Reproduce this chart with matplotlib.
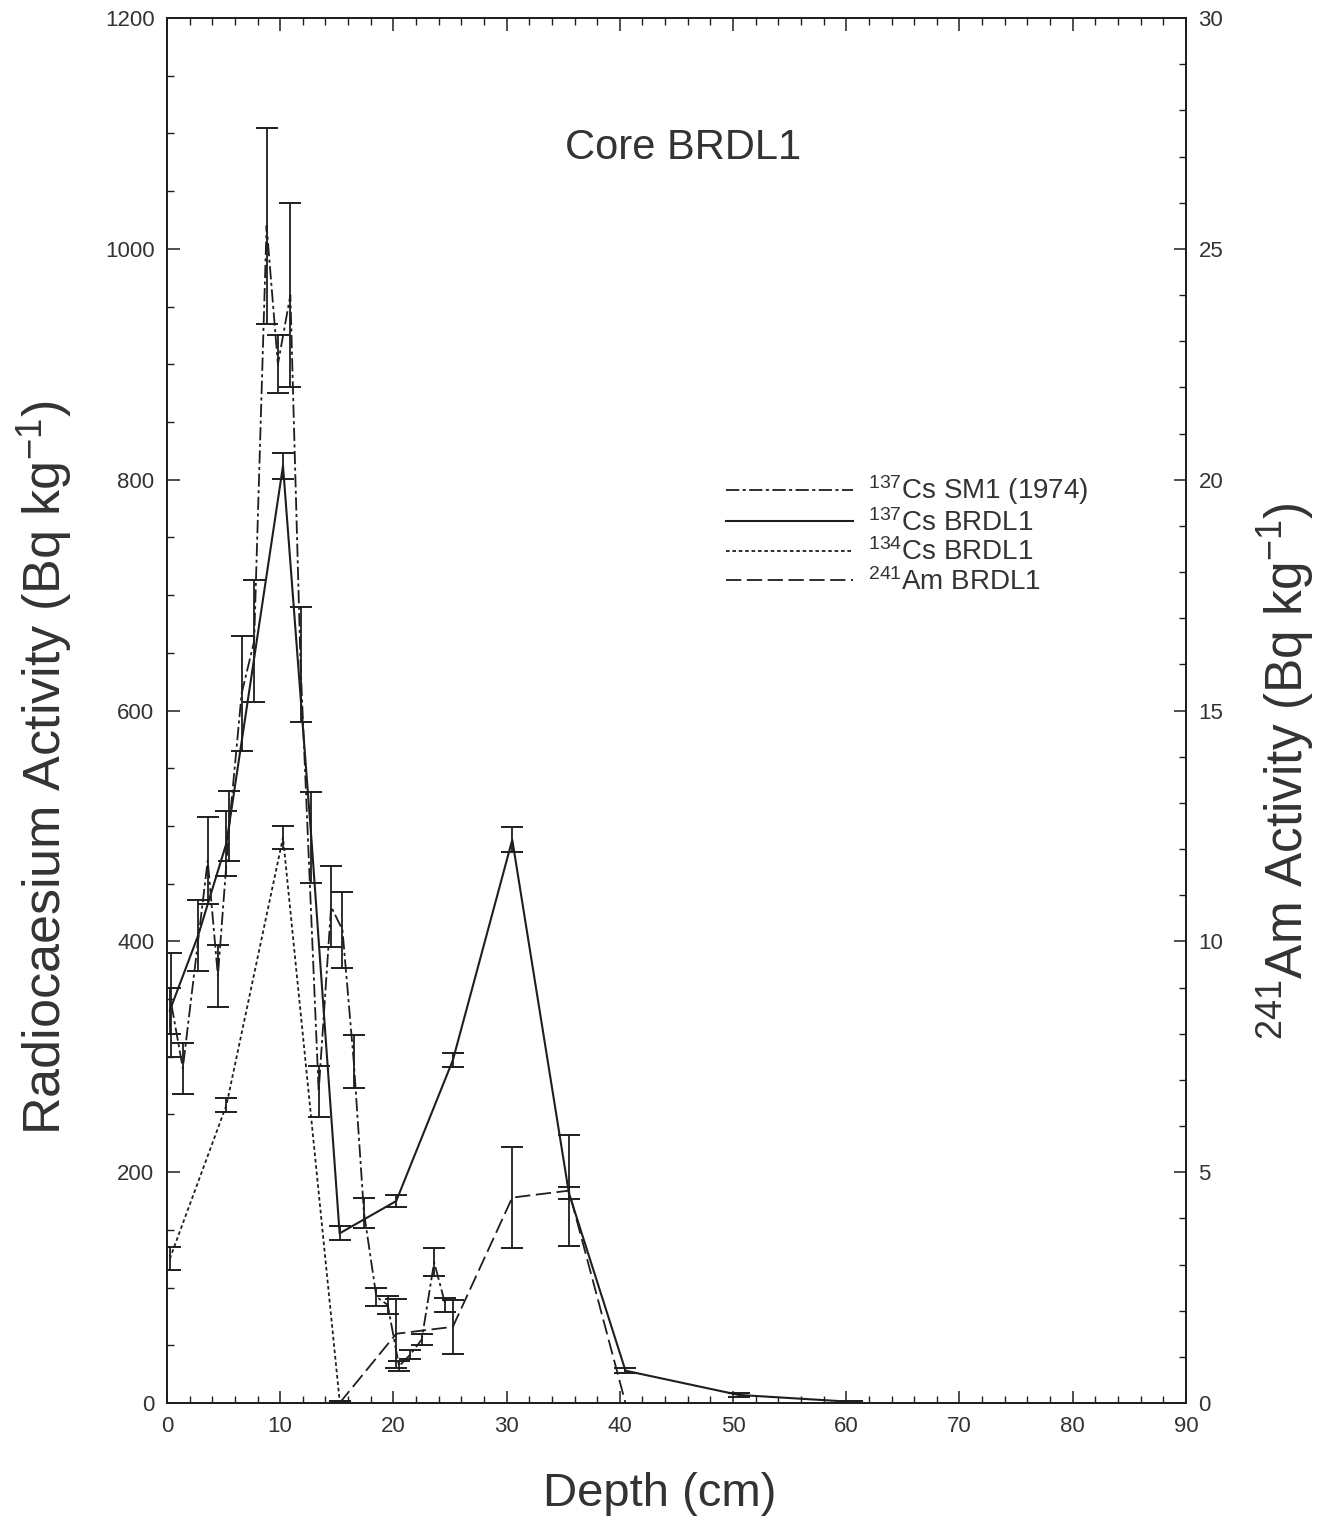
import matplotlib
matplotlib.use("Agg")
import matplotlib.pyplot as plt
from matplotlib.lines import Line2D
from matplotlib.ticker import MultipleLocator

# ---- data -------------------------------------------------------------
# 137Cs in core SM1 (1974), Bq/kg
sm1_depth = [0.4, 1.4, 3.6, 4.5, 5.5, 6.6, 7.7, 8.8, 9.8, 10.9, 11.8, 13.4,
             14.5, 15.5, 16.5, 17.4, 18.5, 19.5, 20.5, 21.5, 22.5, 23.6, 24.6]
sm1_cs137 = [345, 290, 470, 370, 500, 615, 660, 1020, 900, 960, 640, 270,
             430, 410, 296, 165, 92, 85, 32, 42, 55, 122, 85]
sm1_err = [45, 22, 38, 27, 30, 50, 53, 85, 25, 80, 50, 22,
           35, 33, 23, 13, 8, 8, 4, 4, 5, 12, 6]

# 137Cs in core BRDL1, Bq/kg
brdl1_depth = [0.25, 2.75, 5.25, 10.25, 12.75, 15.25, 20.25, 25.25, 30.5,
               35.5, 40.5, 50.5, 60.5]
brdl1_cs137 = [340, 405, 485, 812, 490, 147, 175, 297, 488, 182, 28, 7, 1]
brdl1_cs137_err = [20, 31, 28, 11, 39, 6, 5, 6, 11, 5, 2, 1.5, 0.5]

# 134Cs in core BRDL1, Bq/kg
cs134_depth = [0.25, 5.25, 10.25, 15.25]
cs134 = [125, 258, 490, 2]
cs134_err = [10, 6, 10, 0]

# 241Am in core BRDL1, Bq/kg (right axis)
am_depth = [15.25, 20.25, 25.25, 30.5, 35.5, 40.5]
am241 = [0.0, 1.5, 1.65, 4.45, 4.6, 0.0]
am241_err = [0, 0.75, 0.58, 1.1, 1.2, 0]

legend_labels = [r"$^{137}$Cs SM1 (1974)", r"$^{137}$Cs BRDL1",
                 r"$^{134}$Cs BRDL1", r"$^{241}$Am BRDL1"]

# ---- style ------------------------------------------------------------
plt.rcParams["font.family"] = ["Liberation Sans", "DejaVu Sans"]
plt.rcParams["mathtext.default"] = "regular"
plt.rcParams["lines.scale_dashes"] = False

ink = "#1e1e1e"
txt = "#333333"
lw = 1.3
dashdot = (0, (9.5, 2.5, 2.2, 2.5))
shortdash = (0, (2.6, 2.0))
longdash = (0, (11, 4))
ebkw = dict(ecolor=ink, elinewidth=1.3, capsize=8, capthick=1.4)

fig = plt.figure(figsize=(13.24, 15.32), dpi=100)
ax = fig.add_axes([0.1261, 0.0842, 0.7696, 0.904])
ax2 = ax.twinx()

ax.errorbar(sm1_depth, sm1_cs137, yerr=sm1_err, color=ink, lw=lw,
            linestyle=dashdot, **ebkw)
ax.errorbar(brdl1_depth, brdl1_cs137, yerr=brdl1_cs137_err, color=ink,
            lw=1.5, linestyle="-", **ebkw)
ax.errorbar(cs134_depth, cs134, yerr=cs134_err, color=ink, lw=lw,
            linestyle=shortdash, **ebkw)
ax2.errorbar(am_depth, am241, yerr=am241_err, color=ink, lw=lw,
             linestyle=longdash, **ebkw)

ax.set_xlim(0, 90)
ax.set_ylim(0, 1200)
ax2.set_ylim(0, 30)

ax.xaxis.set_major_locator(MultipleLocator(10))
ax.xaxis.set_minor_locator(MultipleLocator(2))
ax.yaxis.set_major_locator(MultipleLocator(200))
ax.yaxis.set_minor_locator(MultipleLocator(50))
ax2.yaxis.set_major_locator(MultipleLocator(5))
ax2.yaxis.set_minor_locator(MultipleLocator(1))

for a in (ax, ax2):
    a.tick_params(which="major", direction="in", length=9, width=1.1,
                  colors=ink, labelcolor=txt, labelsize=16, pad=9)
    a.tick_params(which="minor", direction="in", length=5, width=1.0,
                  colors=ink)
    for s in a.spines.values():
        s.set_linewidth(1.3)
        s.set_color(ink)
ax.tick_params(axis="x", top=True, which="both")

ax.set_xlabel("Depth (cm)", fontsize=34, color=txt, va="top")
ax.xaxis.set_label_coords(0.484, -0.050)
ax.set_ylabel(r"Radiocaesium Activity (Bq kg$^{-1}$)", fontsize=37.5,
              color=txt)
ax.yaxis.set_label_coords(-0.090, 0.459)
ax2.set_ylabel(r"$^{241}$Am Activity (Bq kg$^{-1}$)", fontsize=37,
               color=txt, rotation=90)
ax2.yaxis.set_label_coords(1.068, 0.456)

ax.text(45.6, 1087, "Core BRDL1", fontsize=30, color=txt,
        ha="center", va="center")

handles = [
    Line2D([], [], color=ink, lw=lw, linestyle=dashdot),
    Line2D([], [], color=ink, lw=1.5, linestyle="-"),
    Line2D([], [], color=ink, lw=lw, linestyle=shortdash),
    Line2D([], [], color=ink, lw=lw, linestyle=longdash),
]
leg = ax.legend(handles, legend_labels, loc="center left",
                bbox_to_anchor=(0.549, 0.627), frameon=False, fontsize=20,
                handlelength=4.55, handletextpad=0.55, labelspacing=0.06,
                borderpad=0, borderaxespad=0)
for t in leg.get_texts():
    t.set_color(txt)

fig.savefig("out.png", dpi=100)
